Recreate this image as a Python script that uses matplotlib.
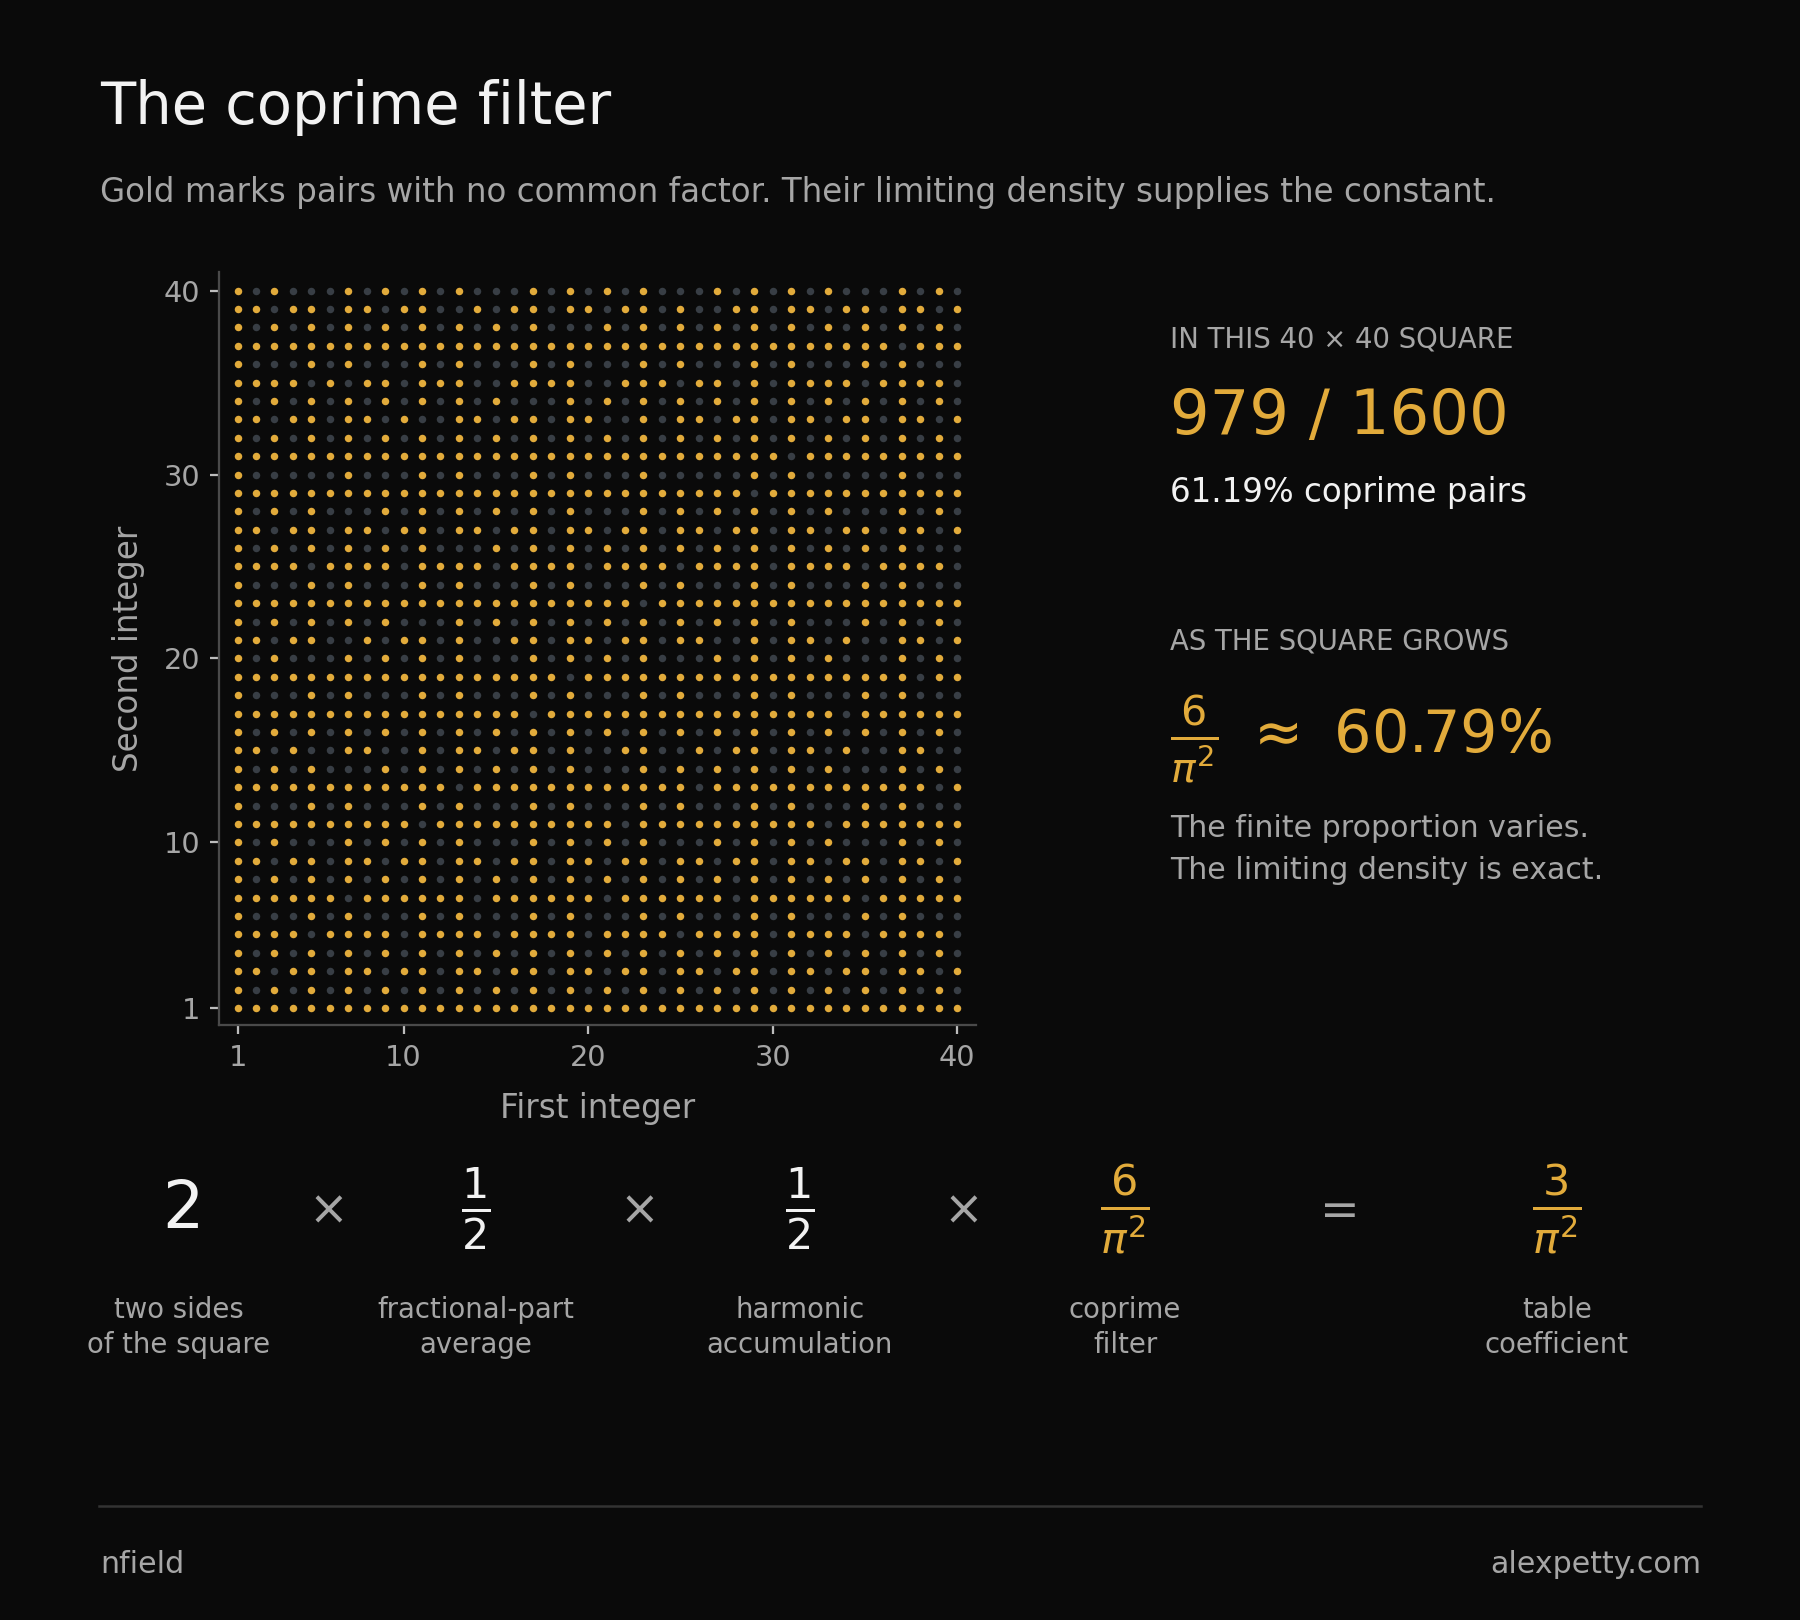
import math
import numpy as np
import matplotlib
matplotlib.use("Agg")
import matplotlib.pyplot as plt

# colours
BG = '#0a0a0a'
GOLD = '#e2ab3b'
DARK_DOT = '#383e45'
GRAY = '#a6a6a6'
WHITE = '#f2f2f2'
SPINE = '#4a4a4a'

# data
N = 40
ticks = [1, 10, 20, 30, 40]
count_text = "979 / 1600"
share_text = "61.19% coprime pairs"
limit_text = r"$\frac{6}{\pi^2}\ \approx\ 60.79\%$"

eq_terms = ["2", r"$\frac{1}{2}$", r"$\frac{1}{2}$", r"$\frac{6}{\pi^2}$", r"$\frac{3}{\pi^2}$"]
eq_captions = ["two sides\nof the square", "fractional-part\naverage",
               "harmonic\naccumulation", "coprime\nfilter", "table\ncoefficient"]
eq_ops = ["×", "×", "×", "="]

# grid of pairs, gold where gcd == 1
xs, ys = np.meshgrid(np.arange(1, N + 1), np.arange(1, N + 1))
xs = xs.ravel()
ys = ys.ravel()
coprime = np.array([math.gcd(int(a), int(b)) == 1 for a, b in zip(xs, ys)])

fig = plt.figure(figsize=(10, 9), dpi=180, facecolor=BG)

ax = fig.add_axes([0.1217, 0.367, 0.4203, 0.465])
ax.set_facecolor(BG)
ax.scatter(xs[~coprime], ys[~coprime], s=9, color=DARK_DOT, linewidths=0)
ax.scatter(xs[coprime], ys[coprime], s=9, color=GOLD, linewidths=0)
ax.set_xlim(0, 41)
ax.set_ylim(0.05, 41)
ax.set_xticks(ticks)
ax.set_yticks(ticks)
for side in ['top', 'right']:
    ax.spines[side].set_visible(False)
for side in ['left', 'bottom']:
    ax.spines[side].set_color(SPINE)
    ax.spines[side].set_linewidth(0.9)
ax.tick_params(colors=GRAY, labelsize=11.5, length=3.5, width=0.9, pad=4)
ax.tick_params(axis='both', which='both', color='#bdbdbd')
ax.set_xlabel("First integer", color=GRAY, fontsize=13, labelpad=8)
ax.set_ylabel("Second integer", color=GRAY, fontsize=13, labelpad=7.5)

# title block
fig.text(0.0556, 0.9235, "The coprime filter", color=WHITE, fontsize=23, va='baseline')
fig.text(0.0556, 0.8753, "Gold marks pairs with no common factor. Their limiting density supplies the constant.",
         color=GRAY, fontsize=13, va='baseline')

# right panel
px = 0.65
fig.text(px, 0.7858, "IN THIS 40 × 40 SQUARE", color=GRAY, fontsize=11, va='baseline')
fig.text(px, 0.732, count_text, color=GOLD, fontsize=25, va='baseline')
fig.text(px, 0.690, share_text, color=WHITE, fontsize=13, va='baseline')
fig.text(px, 0.5988, "AS THE SQUARE GROWS", color=GRAY, fontsize=11, va='baseline')
fig.text(px, 0.5358, limit_text, color=GOLD, fontsize=23.5, va='baseline')
fig.text(px, 0.4833, "The finite proportion varies.", color=GRAY, fontsize=12, va='baseline')
fig.text(px, 0.4574, "The limiting density is exact.", color=GRAY, fontsize=12, va='baseline')

# equation row
term_x = [182.5, 476, 800, 1125, 1557]
op_x = [328, 639, 963, 1340]
term_colors = [WHITE, WHITE, WHITE, GOLD, GOLD]
for i, (term, cap) in enumerate(zip(eq_terms, eq_captions)):
    xf = term_x[i] / 1800
    if i == 0:
        fig.text(xf, 0.242, term, color=term_colors[i], fontsize=26, ha='center', va='baseline')
    else:
        fig.text(xf, 0.2535, term, color=term_colors[i], fontsize=24.5, ha='center', va='center')
    fig.text(xf if i else 179 / 1800, 0.1805, cap, color=GRAY, fontsize=11, ha='center',
             va='center', linespacing=1.35)
for xo, op in zip(op_x, eq_ops):
    fig.text(xo / 1800, 0.2524, op, color=GRAY, fontsize=19, ha='center', va='center')

# footer
fig.add_artist(plt.Line2D([0.055, 0.945], [0.0704, 0.0704], color='#333333', linewidth=1.0))
fig.text(0.0556, 0.0345, "nfield", color=GRAY, fontsize=12, va='center')
fig.text(0.945, 0.0345, "alexpetty.com", color=GRAY, fontsize=12, va='center', ha='right')

fig.savefig("out.png", dpi=180, facecolor=BG)
